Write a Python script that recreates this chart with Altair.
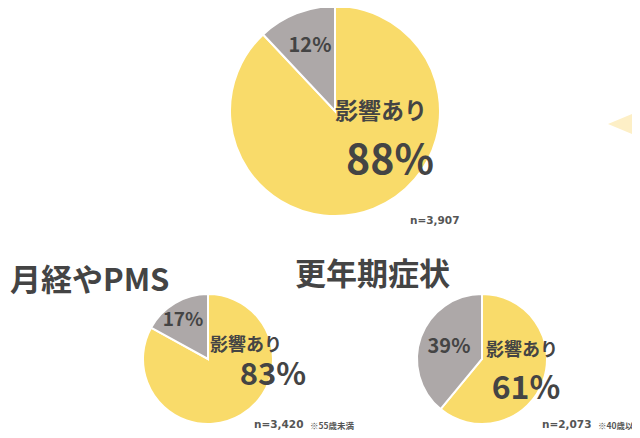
import altair as alt
import pandas as pd

# ---- data ----
pie_names = ["全体", "月経やPMS", "更年期症状"]
titles = ["", "月経やPMS", "更年期症状"]
yes_pct = [88, 83, 61]
no_pct = [12, 17, 39]
yes_label = "影響あり"
n_labels = ["n=3,907", "n=3,420", "n=2,073"]
notes = ["", "※55歳未満", "※40歳以上"]

YELLOW = "#F9DB6A"
GRAY = "#ADA8A8"
TEXT = "#444444"
FONT = "Noto Sans CJK JP"

# layout (chart pixel coords, page margin subtracted)
cfg = [
    dict(cx=327, cy=103, r=105,
         no=(302, 38, 20), lab=(373, 104, 23), yes=(382, 154, 41), n=(402, 213)),
    dict(cx=200, cy=351, r=65,
         no=(175, 312, 19), lab=(238, 338, 18), yes=(265, 368, 31), n=(246, 417)),
    dict(cx=474, cy=351, r=65,
         no=(441, 339, 20), lab=(514, 343, 18), yes=(518, 381, 32), n=(534, 417)),
]
title_pos = [None, (2, 274), (287, 268)]

layers = []
for i in range(3):
    c = cfg[i]
    df = pd.DataFrame({
        "pie": [pie_names[i]] * 2,
        "cat": [yes_label, "なし"],
        "pct": [yes_pct[i], no_pct[i]],
        "ord": [0, 1],
    })
    arc = alt.Chart(df).mark_arc(stroke="white", strokeWidth=2).encode(
        theta=alt.Theta("pct:Q", stack=True),
        order=alt.Order("ord:Q"),
        color=alt.Color("cat:N", scale=alt.Scale(domain=[yes_label, "なし"], range=[YELLOW, GRAY]), legend=None),
        x=alt.value(c["cx"]), y=alt.value(c["cy"]),
        radius=alt.value(c["r"]),
    )
    layers.append(arc)

    tdf = pd.DataFrame({
        "no": [f"{no_pct[i]}%"],
        "yes": [f"{yes_pct[i]}%"],
        "lab": [yes_label],
        "n": [n_labels[i]],
        "note": [notes[i]],
        "title": [titles[i]],
    })
    base = alt.Chart(tdf)
    nx, ny, ns = c["no"]
    layers.append(base.mark_text(font=FONT, fontWeight="bold", fontSize=ns, color=TEXT,
                                 align="center", baseline="middle").encode(
        text="no:N", x=alt.value(nx), y=alt.value(ny)))
    lx, ly, ls = c["lab"]
    layers.append(base.mark_text(font=FONT, fontWeight="bold", fontSize=ls, color=TEXT,
                                 align="center", baseline="middle").encode(
        text="lab:N", x=alt.value(lx), y=alt.value(ly)))
    yx, yy, ys = c["yes"]
    layers.append(base.mark_text(font=FONT, fontWeight="bold", fontSize=ys, color=TEXT,
                                 align="center", baseline="middle").encode(
        text="yes:N", x=alt.value(yx), y=alt.value(yy)))
    nnx, nny = c["n"]
    layers.append(base.mark_text(font="DejaVu Sans", fontWeight="bold", fontSize=10.5, color="#555555",
                                 align="left", baseline="middle").encode(
        text="n:N", x=alt.value(nnx), y=alt.value(nny)))
    if notes[i]:
        layers.append(base.mark_text(font=FONT, fontWeight="bold", fontSize=8.5, color="#555555",
                                     align="left", baseline="middle").encode(
            text="note:N", x=alt.value(nnx + 56), y=alt.value(nny + 1)))
    if titles[i]:
        tx, ty = title_pos[i]
        layers.append(base.mark_text(font=FONT, fontWeight="bold", fontSize=31, color=TEXT,
                                     align="left", baseline="middle").encode(
            text="title:N", x=alt.value(tx), y=alt.value(ty)))

# decorative light triangle at right edge
tri = alt.Chart(pd.DataFrame({"k": [0]})).mark_point(
    shape="M-1,0L1,-0.84L1,0.84Z", filled=True, color="#FDEFC6", opacity=1, size=4096,
    strokeWidth=0
).encode(x=alt.value(632), y=alt.value(116))
layers.append(tri)

chart = alt.layer(*layers).properties(
    width=624, height=422, padding=0,
    autosize=alt.AutoSizeParams(type="none")
).configure_view(stroke=None)

chart.save("out.html", embed_options={"renderer": "svg", "actions": False})
